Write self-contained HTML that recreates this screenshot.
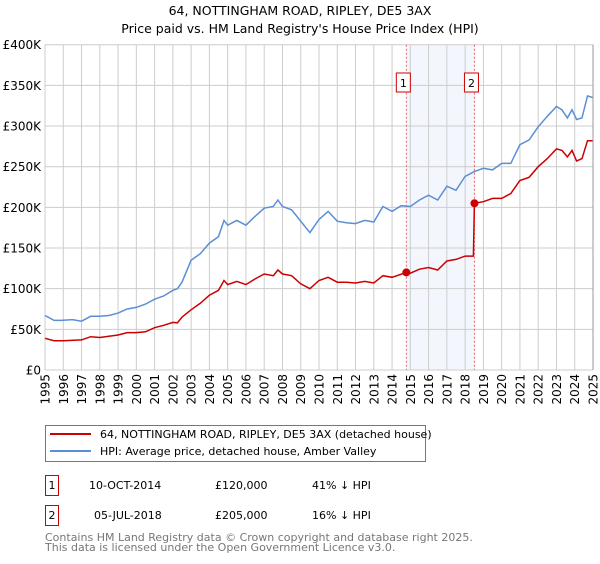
<!DOCTYPE html>
<html><head><meta charset="utf-8"><style>
body{margin:0;background:#fff;font-family:"DejaVu Sans","Liberation Sans",sans-serif;}
svg text{font-family:"DejaVu Sans","Liberation Sans",sans-serif;}
</style></head><body>
<svg id="c" width="600" height="560" viewBox="0 0 600 560" xmlns="http://www.w3.org/2000/svg">
<text x="300" y="15" text-anchor="middle" font-size="12.5">64, NOTTINGHAM ROAD, RIPLEY, DE5 3AX</text>
<text x="300" y="33" text-anchor="middle" font-size="12.5">Price paid vs. HM Land Registry's House Price Index (HPI)</text>
<g id="grid"></g><g id="marks"></g><g id="axes"></g>
<rect x="45.5" y="425.5" width="380" height="36" fill="#fff" stroke="#777"/>
<line x1="50" y1="434" x2="91" y2="434" stroke="#cc0000" stroke-width="2"/>
<text x="100" y="438" font-size="11">64, NOTTINGHAM ROAD, RIPLEY, DE5 3AX (detached house)</text>
<line x1="50" y1="451" x2="91" y2="451" stroke="#5b8fd4" stroke-width="2"/>
<text x="100" y="455" font-size="11">HPI: Average price, detached house, Amber Valley</text>
<rect x="45.5" y="475.5" width="13" height="20" fill="#fff" stroke="#cc0000"/>
<text x="52" y="489" text-anchor="middle" font-size="11">1</text>
<text x="89" y="489" font-size="11">10-OCT-2014</text>
<text x="215" y="489" font-size="11">£120,000</text>
<text x="312" y="489" font-size="11">41% ↓ HPI</text>
<rect x="45.5" y="505.5" width="13" height="20" fill="#fff" stroke="#cc0000"/>
<text x="52" y="519" text-anchor="middle" font-size="11">2</text>
<text x="94" y="519" font-size="11">05-JUL-2018</text>
<text x="215" y="519" font-size="11">£205,000</text>
<text x="312" y="519" font-size="11">16% ↓ HPI</text>
<text x="45" y="541" font-size="11" fill="#777">Contains HM Land Registry data © Crown copyright and database right 2025.</text>
<text x="45" y="551" font-size="11" fill="#777">This data is licensed under the Open Government Licence v3.0.</text>
</svg>
<script>
const hpiYears=[1995,1995.5,1995.9,1996.5,1997,1997.5,1998,1998.5,1999,1999.5,2000,2000.5,2001,2001.5,2002,2002.25,2002.5,2003,2003.5,2004,2004.5,2004.8,2005,2005.5,2006,2006.5,2007,2007.5,2007.75,2008,2008.5,2009,2009.5,2010,2010.5,2011,2011.5,2012,2012.5,2013,2013.5,2014,2014.5,2015,2015.5,2016,2016.5,2017,2017.5,2018,2018.5,2019,2019.5,2020,2020.5,2021,2021.5,2022,2022.5,2023,2023.3,2023.6,2023.85,2024.1,2024.4,2024.7,2025];
const hpiValues=[67,61,61,62,60,66,66,67,70,75,77,81,87,91,98,100,108,135,143,156,164,184,178,184,178,189,199,201,209,201,197,183,169,185,195,183,181,180,184,182,201,195,202,201,209,215,209,226,221,238,244,248,246,254,254,277,283,299,312,324,320,310,320,308,310,337,335];
const ppYears=[1995,1995.5,1996,1997,1997.5,1998,1998.5,1999,1999.5,2000,2000.5,2001,2001.5,2002,2002.25,2002.5,2003,2003.5,2004,2004.5,2004.8,2005,2005.5,2006,2006.5,2007,2007.5,2007.75,2008,2008.5,2009,2009.5,2010,2010.5,2011,2011.5,2012,2012.5,2013,2013.5,2014,2014.78,2015,2015.5,2016,2016.5,2017,2017.5,2018,2018.45,2018.51,2019,2019.5,2020,2020.5,2021,2021.5,2022,2022.5,2023,2023.3,2023.6,2023.85,2024.1,2024.4,2024.7,2025];
const ppValues=[39,36,36,37,41,40,41.5,43,46,46,47,52,55,58.5,58,65,74,82,92,98,110,105,109,105,112,118,116,123,118,116,106,100,110,114,108,108,107,109,107,116,114,120,119,124,126,123,134,136,140,140,205,207,211,211,217,233,237,250,260,272,270,262,270,257,260,282,282];
const saleYears=[2014.78,2018.51];
const saleValues=[120,205];
const saleLabels=["1","2"];
const yTicks=[0,50,100,150,200,250,300,350,400];
const yTickLabels=["£0","£50K","£100K","£150K","£200K","£250K","£300K","£350K","£400K"];
const xTicks=[1995,1996,1997,1998,1999,2000,2001,2002,2003,2004,2005,2006,2007,2008,2009,2010,2011,2012,2013,2014,2015,2016,2017,2018,2019,2020,2021,2022,2023,2024,2025];

const NS="http://www.w3.org/2000/svg";
const L=45,R=593,T=44.7,B=370;
const xs=y=>L+(y-1995)/30*(R-L);
const ys=v=>B-v/400*(B-T);
function mk(tag,attrs,parent){const e=document.createElementNS(NS,tag);for(const k in attrs)e.setAttribute(k,attrs[k]);document.getElementById(parent).appendChild(e);return e;}
// shading
let sh=mk('rect',{x:xs(saleYears[0]),y:T,width:xs(saleYears[1])-xs(saleYears[0]),height:B-T,fill:'#eef3fc',opacity:0.7},'grid');


yTicks.forEach((v,i)=>{
 let g=mk('line',{x1:L,x2:R,y1:ys(v),y2:ys(v),stroke:'#ccc','stroke-width':1},'grid');
 
 
 let t=mk('text',{x:L-4,y:ys(v)+4.5,'text-anchor':'end','font-size':12},'axes');
 t.textContent=yTickLabels[i];
 
 
});
xTicks.forEach(y=>{
 let g=mk('line',{x1:xs(y),x2:xs(y),y1:T,y2:B,stroke:'#ccc','stroke-width':1},'grid');
 
 
 let t=mk('text',{x:0,y:0,'text-anchor':'end','font-size':12,transform:`translate(${xs(y)+4.5},${B+4}) rotate(-90)`},'axes');
 t.textContent=y;
 
 
});
saleYears.forEach((y,i)=>{
 let d=mk('line',{x1:xs(y),x2:xs(y),y1:T,y2:B,stroke:'#e66','stroke-width':1,'stroke-dasharray':'2,2'},'grid');
 
 
});
function path(xa,va,color,name){
 const d=xa.map((y,i)=>(i?'L':'M')+xs(y).toFixed(1)+','+ys(va[i]).toFixed(1)).join('');
 let p=mk('path',{d:d,fill:'none',stroke:color,'stroke-width':1.5},'marks');
 
 
}
path(hpiYears,hpiValues,'#5b8fd4','hpi-line');
path(ppYears,ppValues,'#cc0000','price-paid-line');
saleYears.forEach((y,i)=>{
 let c=mk('circle',{cx:xs(y),cy:ys(saleValues[i]),r:4,fill:'#cc0000'},'marks');
 
 
 let b=mk('rect',{x:xs(y)-10,y:73,width:14,height:19,fill:'#fff',stroke:'#cc0000'},'marks');
 
 
 let t=mk('text',{x:xs(y)-3,y:87,'text-anchor':'middle','font-size':11},'marks');
 t.textContent=saleLabels[i];
 
 
});
let ax=mk('line',{x1:R,x2:R,y1:T,y2:B,stroke:'#999'},'axes');


</script>
</body></html>
